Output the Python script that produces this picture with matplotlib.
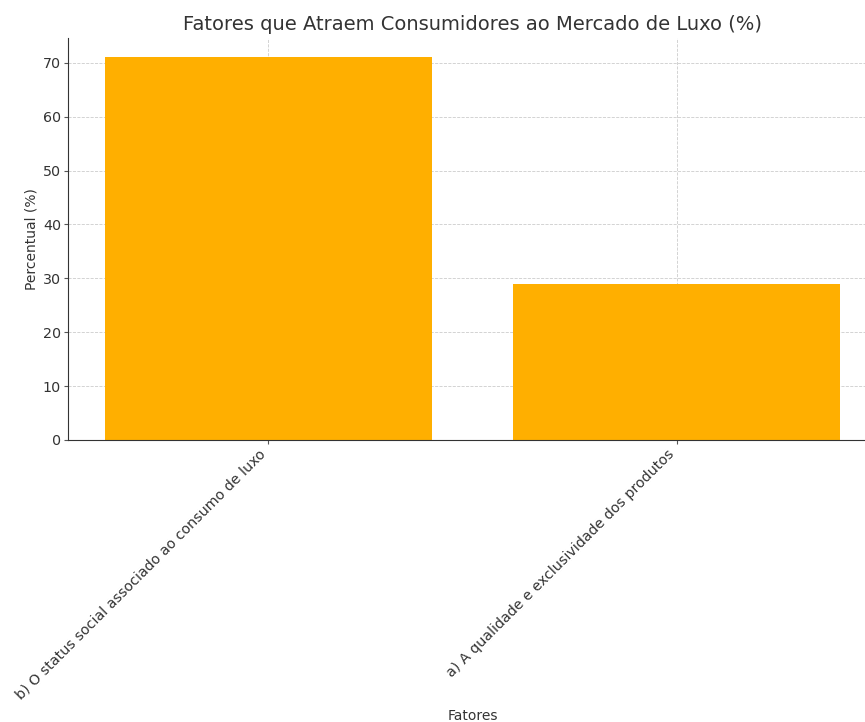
import matplotlib
matplotlib.use("Agg")
import matplotlib.pyplot as plt

# data
categories = [
    "b) O status social associado ao consumo de luxo",
    "a) A qualidade e exclusividade dos produtos",
]
percentages = [71, 29]

text_color = "#333333"
bar_color = "#FFAF00"

fig = plt.figure(figsize=(8.65, 7.22), dpi=100)
ax = fig.add_axes([0.0786, 0.3906, 0.935, 0.5564])

ax.bar(categories, percentages, color=bar_color, width=0.8, zorder=2)

ax.set_title("Fatores que Atraem Consumidores ao Mercado de Luxo (%)",
             fontsize=14, color=text_color, pad=6)
ax.set_xlabel("Fatores", fontsize=10, color=text_color, labelpad=5)
ax.set_ylabel("Percentual (%)", fontsize=10, color=text_color, labelpad=3)

ax.set_xticks(range(len(categories)))
ax.set_xticklabels(categories, rotation=45, ha="right", fontsize=10.3, color=text_color)
ax.tick_params(axis="y", labelsize=10.3, colors=text_color, length=3, pad=2, color="#555555")
ax.tick_params(axis="x", colors=text_color, length=3, pad=2, color="#555555")

ax.grid(True, linestyle="--", linewidth=0.6, color="#cccccc", zorder=0)
ax.set_axisbelow(True)
ax.spines["top"].set_visible(False)
ax.spines["right"].set_visible(False)
ax.spines["left"].set_color("#333333")
ax.spines["bottom"].set_color("#333333")

fig.savefig("out.png", dpi=100)
